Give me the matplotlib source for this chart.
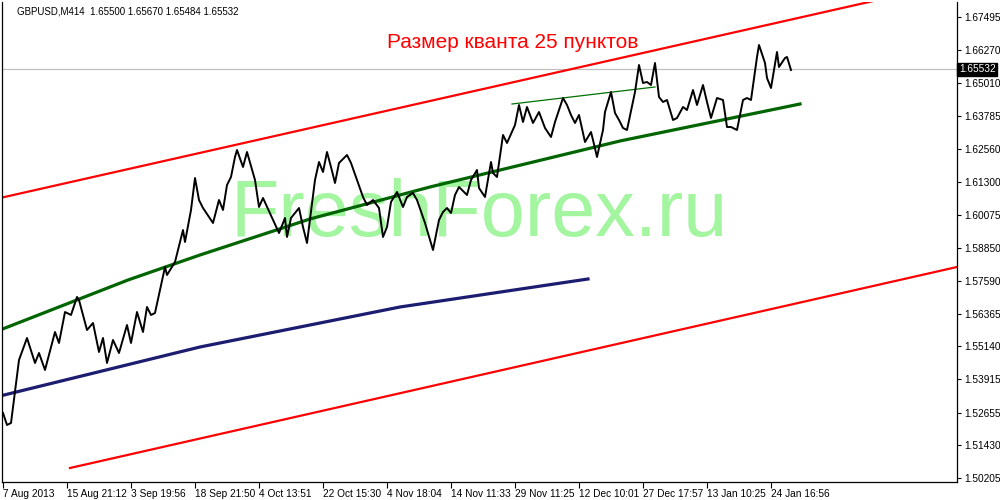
import matplotlib
matplotlib.use("Agg")
import matplotlib.pyplot as plt

plt.rcParams['font.family'] = ['Liberation Sans', 'DejaVu Sans']

# ---- data (bar index, price) ----
bar_idx = [0, 2, 4, 8, 12, 16, 18, 21, 26, 28, 31, 34, 37, 38, 42, 45, 48, 50, 52, 55,
           58, 62, 64, 67, 70, 72, 74, 76, 81, 82, 86, 90, 91, 94, 96, 98,
           100, 105, 108, 110, 112, 114, 116, 117, 120, 122, 126, 128, 130, 138, 141, 142,
           144, 148, 150, 152, 156, 158, 160, 162, 164, 166, 168, 172, 174, 177, 180, 182,
           185, 188, 190, 192, 194, 197, 200, 202, 205, 207, 211, 215, 218, 220, 222, 224,
           226, 228, 232, 234, 237, 238, 241, 244, 245, 247, 250, 252, 256, 258, 260, 262,
           265, 268, 271, 274, 276, 278, 280, 282, 284, 286, 288, 291, 294, 295, 297, 300,
           301, 304, 306, 308, 310, 312, 316, 318, 320, 322, 324, 326, 328, 330, 332, 335,
           337, 340, 342, 345, 347, 350, 352, 354, 357, 360, 362, 364, 367, 370, 372, 374,
           377, 378, 381, 382, 384, 387, 388, 391, 392, 394]
price = [1.52645, 1.52195, 1.52270, 1.54632, 1.55457, 1.54520, 1.54895, 1.54257, 1.55682, 1.55270,
         1.56432, 1.56320, 1.56995, 1.56882, 1.55757, 1.56020, 1.54932, 1.55457, 1.54520, 1.55382,
         1.54895, 1.55945, 1.55270, 1.56432, 1.55682, 1.56620, 1.56320, 1.56395, 1.58120, 1.57820,
         1.58307, 1.59507, 1.59057, 1.60257, 1.61457, 1.60632,
         1.60332, 1.59770, 1.60632, 1.60257, 1.61195, 1.61495, 1.62245, 1.62507, 1.61870, 1.62432,
         1.61382, 1.60370, 1.60707, 1.59395, 1.59957, 1.59245,
         1.59957, 1.60332, 1.59620, 1.59020, 1.61382, 1.62057, 1.61682, 1.62432, 1.61870, 1.61270,
         1.62020, 1.62320, 1.62020, 1.61382, 1.60745, 1.60445,
         1.60632, 1.60332, 1.59245, 1.59620, 1.60557, 1.60932, 1.60370, 1.60745, 1.60895, 1.60632,
         1.59770, 1.58757, 1.59882, 1.60182, 1.60332, 1.60145,
         1.60820, 1.61120, 1.60820, 1.61382, 1.61757, 1.61082, 1.60745, 1.62057, 1.61645, 1.61495,
         1.63070, 1.62770, 1.63445, 1.64195, 1.63557, 1.64120,
         1.63520, 1.63932, 1.63332, 1.62995, 1.63557, 1.64007, 1.64457, 1.64195, 1.63820, 1.63520,
         1.63820, 1.62807, 1.63182, 1.62882, 1.62245, 1.63257,
         1.63932, 1.64682, 1.63895, 1.63632, 1.63332, 1.63257, 1.64682, 1.65695, 1.65020, 1.65057,
         1.64945, 1.65770, 1.64495, 1.64307, 1.64382, 1.63632,
         1.63707, 1.64120, 1.64007, 1.64757, 1.64195, 1.64945, 1.64307, 1.63707, 1.64457, 1.64382,
         1.63370, 1.63370, 1.63257, 1.64382, 1.64457, 1.64382,
         1.65995, 1.66445, 1.65770, 1.65207, 1.64832, 1.66182, 1.65620, 1.65957, 1.65995, 1.65507]

upper_x = [-1.5, 448.5]
upper_y = [1.60707, 1.68320]
lower_x = [33.5, 477.0]
lower_y = [1.50582, 1.58120]
green_x = [-1.5, 62.5, 98.5, 153.5, 213.5, 308.5, 398.5]
green_y = [1.55757, 1.57632, 1.58570, 1.59920, 1.61120, 1.62845, 1.64232]
navy_x = [-1.5, 98.5, 198.5, 292.5]
navy_y = [1.53282, 1.55120, 1.56620, 1.57670]
thin_x = [254.5, 326.0]
thin_y = [1.64232, 1.64870]

last_price = 1.65532
yticks = [1.67495, 1.66270, 1.65010, 1.63785, 1.62560, 1.61300, 1.60075, 1.58850,
          1.57590, 1.56365, 1.55140, 1.53915, 1.52655, 1.51430, 1.50205]
xtick_pos = [0, 32, 64, 96, 128, 160, 192, 224, 256, 288, 320, 352, 384]
xtick_lab = ["7 Aug 2013", "15 Aug 21:12", "3 Sep 19:56", "18 Sep 21:50", "4 Oct 13:51",
             "22 Oct 15:30", "4 Nov 18:04", "14 Nov 11:33", "29 Nov 11:25", "12 Dec 10:01",
             "27 Dec 17:57", "13 Jan 10:25", "24 Jan 16:56"]
header = "GBPUSD,M414  1.65500 1.65670 1.65484 1.65532"
title = "Размер кванта 25 пунктов"
watermark = "FreshForex.ru"

fig = plt.figure(figsize=(10, 5), dpi=100)
ax = fig.add_axes([0.002, 0.036, 0.955, 0.96])
ax.set_xlim(-0.5, 477)
ax.set_ylim(1.50057, 1.68057)

ax.text(0.5, 0.555, watermark, transform=ax.transAxes, ha='center', va='center',
        fontsize=57, color='#a3f5a0', zorder=0)

ax.axhline(last_price, color='#c0c0c0', lw=0.9, zorder=1)
ax.plot(upper_x, upper_y, color='#ff0000', lw=1.6, zorder=2)
ax.plot(lower_x, lower_y, color='#ff0000', lw=1.6, zorder=2)
ax.plot(green_x, green_y, color='#006400', lw=2.3, zorder=2)
ax.plot(navy_x, navy_y, color='#1c1c70', lw=2.3, zorder=2)
ax.plot(thin_x, thin_y, color='#007000', lw=0.9, zorder=2)
ax.plot(bar_idx, price, color='black', lw=1.4, zorder=3)

ax.text(0.535, 0.915, title, transform=ax.transAxes, ha='center', va='center',
        fontsize=15, color='#ff0000', zorder=4)
fig.text(0.017, 0.978, header, ha='left', va='center', fontsize=7, color='black')

ax.yaxis.tick_right()
ax.set_yticks(yticks)
ax.set_yticklabels([f"{v:.5f}" for v in yticks])
ax.tick_params(axis='y', direction='out', length=3, width=0.8, labelsize=7.3, pad=2)
ax.set_xticks(xtick_pos)
ax.set_xticklabels(xtick_lab, ha='left')
ax.tick_params(axis='x', direction='out', length=4, width=0.8, labelsize=7.3, pad=1)
for lab in ax.get_xticklabels():
    lab.set_horizontalalignment('left')
for s in ax.spines.values():
    s.set_linewidth(0.9)
ax.spines['top'].set_visible(False)

ax.text(1.002, (last_price - 1.50057) / (1.68057 - 1.50057), f"{last_price:.5f}",
        transform=ax.transAxes, ha='left', va='center', fontsize=7.3, color='white',
        bbox=dict(boxstyle='square,pad=0.15', fc='black', ec='black'), zorder=5, clip_on=False)

fig.savefig("out.png", dpi=100)
